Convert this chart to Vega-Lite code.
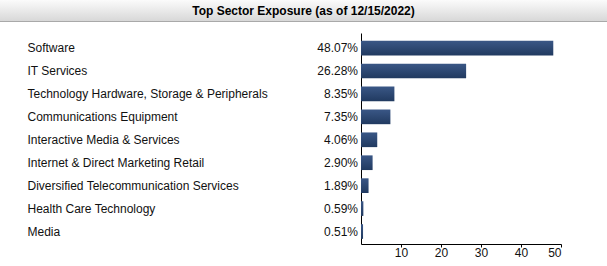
{
  "$schema": "https://vega.github.io/schema/vega-lite/v6.json",
  "padding": 0,
  "background": "white",
  "spacing": 11,
  "config": {"font": "Liberation Sans", "view": {"stroke": null}},
  "vconcat": [
    {
      "width": 607,
      "height": 22,
      "view": {
        "stroke": null,
        "fill": {
          "gradient": "linear", "x1": 0, "y1": 0, "x2": 0, "y2": 1,
          "stops": [
            {"offset": 0, "color": "#fbfbfb"},
            {"offset": 0.95, "color": "#d8d8d8"},
            {"offset": 0.955, "color": "#a9a9a9"},
            {"offset": 1, "color": "#a9a9a9"}
          ]
        }
      },
      "data": {"values": [{"title": "Top Sector Exposure (as of 12/15/2022)"}]},
      "mark": {"type": "text", "fontWeight": "bold", "fontSize": 12, "color": "#000", "baseline": "middle", "font": "Liberation Sans"},
      "encoding": {"text": {"field": "title"}}
    },
    {
      "width": 607,
      "height": 211,
      "data": {
        "values": [
          {"sector": "Software", "value": 48.07},
          {"sector": "IT Services", "value": 26.28},
          {"sector": "Technology Hardware, Storage & Peripherals", "value": 8.35},
          {"sector": "Communications Equipment", "value": 7.35},
          {"sector": "Interactive Media & Services", "value": 4.06},
          {"sector": "Internet & Direct Marketing Retail", "value": 2.90},
          {"sector": "Diversified Telecommunication Services", "value": 1.89},
          {"sector": "Health Care Technology", "value": 0.59},
          {"sector": "Media", "value": 0.51}
        ]
      },
      "transform": [{"calculate": "format(datum.value, '.2f') + '%'", "as": "label"}],
      "encoding": {
        "y": {
          "field": "sector",
          "type": "nominal",
          "sort": null,
          "scale": {"paddingInner": 0.36, "paddingOuter": 0.28, "align": 0.6},
          "axis": {
            "title": null,
            "offset": -361,
            "labelAlign": "left",
            "labelBaseline": "middle",
            "labelPadding": 334,
            "ticks": false,
            "tickSize": 0,
            "labelLimit": 0,
            "labelFontSize": 12,
            "labelFont": "Liberation Sans",
            "labelColor": "#111",
            "domain": true,
            "domainColor": "#000",
            "domainWidth": 1
          }
        }
      },
      "layer": [
        {
          "mark": {
            "type": "bar",
            "color": {
              "gradient": "linear", "x1": 0, "y1": 0, "x2": 0, "y2": 1,
              "stops": [
                {"offset": 0, "color": "#3a5786"},
                {"offset": 1, "color": "#213a60"}
              ]
            }
          },
          "encoding": {
            "x": {
              "field": "value",
              "type": "quantitative",
              "scale": {"domain": [0, 50], "nice": false, "range": [361, 561]},
              "axis": {
                "title": null,
                "values": [10, 20, 30, 40, 50],
                "grid": false,
                "domainColor": "#000",
                "tickColor": "#000",
                "tickSize": 3,
                "labelPadding": 0,
                "labelFontSize": 12,
                "labelFont": "Liberation Sans",
                "labelColor": "#111"
              }
            }
          }
        },
        {
          "mark": {"type": "text", "align": "right", "baseline": "middle", "dx": -3, "fontSize": 12, "font": "Liberation Sans", "color": "#111"},
          "encoding": {
            "x": {"datum": 0},
            "text": {"field": "label"}
          }
        }
      ]
    }
  ]
}
